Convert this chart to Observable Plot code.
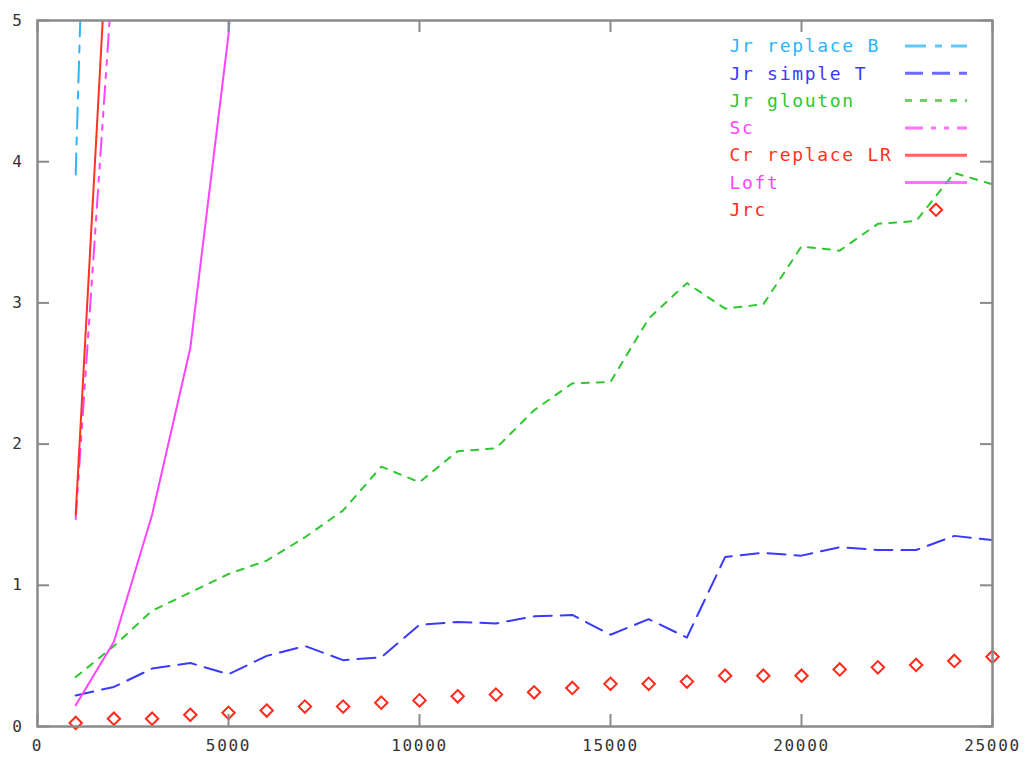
<!DOCTYPE html>
<html><head><meta charset="utf-8">
<script src="https://cdn.jsdelivr.net/npm/d3@7"></script>
<script src="https://cdn.jsdelivr.net/npm/@observablehq/plot@0.6"></script>
<style>
html,body{margin:0;padding:0;background:#fff;}
#chart svg{display:block;}
</style></head><body><div id="chart"></div>
<script>
// ---- data ----
const sizes = [1000,2000,3000,4000,5000,6000,7000,8000,9000,10000,11000,12000,13000,
  14000,15000,16000,17000,18000,19000,20000,21000,22000,23000,24000,25000];
const xTicks = [0,5000,10000,15000,20000,25000];
const yTicks = [0,1,2,3,4,5];
const seriesNames = ["Jr replace B","Jr simple T","Jr glouton","Sc","Cr replace LR","Loft","Jrc"];

const jrReplaceB = [3.91, 13.1];
const jrSimpleT = [0.22,0.28,0.41,0.45,0.37,0.50,0.57,0.47,0.49,0.72,0.74,0.73,0.78,0.79,0.65,0.76,0.63,1.20,1.23,1.21,1.27,1.25,1.25,1.35,1.32];
const jrGlouton = [0.35,0.57,0.82,0.95,1.08,1.175,1.34,1.53,1.84,1.73,1.95,1.97,2.24,2.43,2.44,2.89,3.14,2.96,2.99,3.40,3.37,3.56,3.58,3.92,3.84];
const sc = [1.47, 5.45];
const crReplaceLR = [1.50, 6.45];
const loft = [0.15, 0.60, 1.50, 2.68, 4.90, 9.0];
const jrc = [0.025,0.055,0.055,0.083,0.097,0.113,0.141,0.141,0.169,0.185,0.214,0.226,0.242,0.273,0.302,0.302,0.318,0.36,0.36,0.36,0.404,0.419,0.436,0.464,0.494];

// ---- styles ----
const colors = ["#2fb4f7","#3a3aff","#2ec82e","#ff44ff","#ff3322","#ff44ff","#ff2a1a"];
const dashes = ["21,9,7,9","18,9","7,8","18,8,5,8,5,8",null,null,null];
const seriesValues = [jrReplaceB, jrSimpleT, jrGlouton, sc, crReplaceLR, loft, jrc];

const rows = (vals) => vals.map((v,i) => ({x: sizes[i], y: v}));

const W = 1029, H = 763, ML = 37, MR = 37, MT = 20, MB = 37;
const innerW = W - ML - MR, innerH = H - MT - MB;
const frameColor = "#8a8a8a";

const marks = [];
// lines (first six series)
for (let i = 0; i < 6; i++) {
  marks.push(Plot.line(rows(seriesValues[i]), {
    x: "x", y: "y", stroke: colors[i], strokeWidth: 2,
    strokeDasharray: dashes[i] || undefined, clip: true
  }));
}
// Jrc points
marks.push(Plot.dot(rows(jrc), {x: "x", y: "y", symbol: "diamond2", r: 5.6,
  stroke: colors[6], strokeWidth: 2, fill: "none"}));

// frame and inward ticks on all four sides
marks.push(Plot.frame({stroke: frameColor, strokeWidth: 2.5}));
marks.push(Plot.ruleX(xTicks, {x: d => d, stroke: frameColor, strokeWidth: 2, insetTop: innerH - 12}));
marks.push(Plot.ruleX(xTicks, {x: d => d, stroke: frameColor, strokeWidth: 2, insetBottom: innerH - 12}));
marks.push(Plot.ruleY(yTicks, {y: d => d, stroke: frameColor, strokeWidth: 2, insetRight: innerW - 12}));
marks.push(Plot.ruleY(yTicks, {y: d => d, stroke: frameColor, strokeWidth: 2, insetLeft: innerW - 12}));

// axis labels
marks.push(Plot.axisX({ticks: xTicks, tickSize: 0, tickPadding: 13, tickFormat: d => String(d),
  label: null, fontSize: 16, fill: "#333"}));
marks.push(Plot.axisY({ticks: yTicks, tickSize: 0, tickPadding: 14, tickFormat: d => String(d),
  label: null, fontSize: 16, fill: "#333"}));

// legend labels
seriesNames.forEach((name, i) => {
  marks.push(Plot.text([name], {frameAnchor: "top-left", text: d => d, dx: 692, dy: 26 + 27.3 * i,
    fill: colors[i], fontSize: 18, textAnchor: "start", lineAnchor: "middle", className: "legend-text"}));
});

const chart = Plot.plot({
  width: W, height: H,
  marginLeft: ML, marginRight: MR, marginTop: MT, marginBottom: MB,
  x: {domain: [0, 25000]},
  y: {domain: [0, 5]},
  style: {fontFamily: "'DejaVu Sans Mono', monospace", background: "#fff", overflow: "visible"},
  marks
});
document.getElementById("chart").appendChild(chart);

// letter spacing to emulate the wider monospace font
d3.select(chart).selectAll("text").style("letter-spacing", "1.7px");

// legend samples (key lines and key point)
const svg = d3.select(chart);
const g = svg.append("g");
const kx1 = 905, kx2 = 967;
for (let i = 0; i < 6; i++) {
  const ky = MT + 26 + 27.3 * i;
  g.append("line").attr("x1", kx1).attr("x2", kx2).attr("y1", ky).attr("y2", ky)
    .attr("stroke", colors[i]).attr("stroke-width", 3).attr("stroke-opacity", 0.75)
    .attr("stroke-dasharray", dashes[i]);
}
{
  const ky = MT + 26 + 27.3 * 6, kx = (kx1 + kx2) / 2;
  const s = 6.1;
  g.append("path").attr("d", `M${kx},${ky - s}L${kx + s},${ky}L${kx},${ky + s}L${kx - s},${ky}Z`)
    .attr("fill", "none").attr("stroke", colors[6]).attr("stroke-width", 2);
}
</script></body></html>
